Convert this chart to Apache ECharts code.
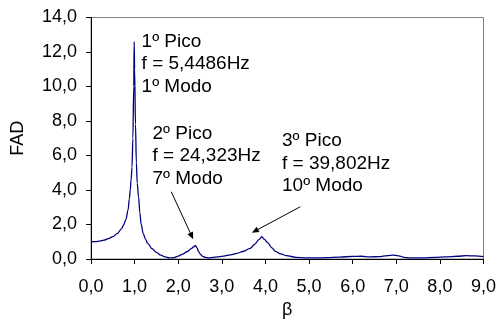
<!DOCTYPE html>
<html>
<head>
<meta charset="utf-8">
<script src="https://cdn.jsdelivr.net/npm/echarts@6/dist/echarts.min.js"></script>
<style>
  html, body { margin: 0; padding: 0; background: #fff; }
  #chart { width: 499px; height: 327px; }
</style>
</head>
<body>
<div id="chart"></div>
<script>
// Frequency ratio β and dynamic amplification factor (FAD)
const beta = [0, 0.1, 0.2, 0.3, 0.4, 0.5, 0.6, 0.7, 0.75, 0.8, 0.85, 0.88, 0.9, 0.92, 0.94, 0.96, 0.98, 0.99,
  1.0, 1.02, 1.04, 1.06, 1.09, 1.12, 1.15, 1.2, 1.25, 1.3, 1.4, 1.5, 1.6, 1.7, 1.8, 1.9, 2.0, 2.1, 2.2, 2.3,
  2.35, 2.39, 2.43, 2.47, 2.51, 2.56, 2.62, 2.7, 2.8, 2.9, 3.0, 3.2, 3.35, 3.5, 3.65, 3.75, 3.85, 3.92, 3.97,
  4.05, 4.15, 4.22, 4.35, 4.48, 4.7, 4.94, 5.2, 5.4, 5.7, 6.0, 6.2, 6.38, 6.6, 6.8, 6.92, 7.05, 7.21, 7.4,
  7.59, 7.9, 8.12, 8.4, 8.6, 8.8, 9.0];
const fad = [1.00, 1.01, 1.04, 1.09, 1.18, 1.30, 1.47, 1.75, 1.98, 2.30, 2.85, 3.5, 4.0, 4.6, 5.3, 7.0, 10.0, 12.6,
  11.0, 7.8, 5.6, 4.4, 3.6, 2.7, 2.0, 1.45, 1.15, 0.91, 0.60, 0.38, 0.22, 0.12, 0.06, 0.08, 0.17, 0.28, 0.42, 0.60,
  0.70, 0.78, 0.65, 0.42, 0.27, 0.15, 0.09, 0.07, 0.09, 0.12, 0.15, 0.24, 0.33, 0.45, 0.62, 0.85, 1.12, 1.29, 1.15,
  0.95, 0.65, 0.46, 0.30, 0.19, 0.10, 0.06, 0.06, 0.08, 0.11, 0.15, 0.16, 0.12, 0.14, 0.20, 0.23, 0.18, 0.08, 0.06,
  0.06, 0.09, 0.12, 0.16, 0.19, 0.18, 0.14];

// Peak annotations: [β, FAD] of the block's first line, and its text lines
const notePos = [[1.16, 12.6], [1.41, 7.28], [4.38, 6.85]];
const noteText = [
  ['1º Pico', 'f = 5,4486Hz', '1º Modo'],
  ['2º Pico', 'f = 24,323Hz', '7º Modo'],
  ['3º Pico', 'f = 39,802Hz', '10º Modo']
];
// Arrows pointing at the 2nd and 3rd peaks: [from, to] in data units
const arrows = [
  [[1.84, 3.90], [2.31, 1.33]],
  [[4.80, 3.03], [3.76, 1.62]]
];

const FONT = 'Liberation Sans, Arial, sans-serif';
const FS = 18;
const NOTE_FS = 19;
const LH = 22.5;
const fmt = v => v.toFixed(1).replace('.', ',');

const chart = echarts.init(document.getElementById('chart'), null, { renderer: 'canvas' });
chart.setOption({
  animation: false,
  backgroundColor: '#fff',
  grid: {
    left: 91, right: 14, top: 17.5, bottom: 68,
    show: true, borderColor: '#808080', borderWidth: 1, backgroundColor: 'transparent'
  },
  xAxis: {
    type: 'value', min: 0, max: 9, interval: 1,
    name: 'β', nameLocation: 'middle', nameGap: 42,
    nameTextStyle: { fontFamily: FONT, fontSize: FS, color: '#000' },
    axisLine: { show: true, onZero: false, lineStyle: { color: '#000', width: 1 } },
    axisTick: { show: true, inside: false, length: 5, lineStyle: { color: '#000' } },
    axisLabel: { formatter: fmt, fontFamily: FONT, fontSize: FS, color: '#000', margin: 19 },
    splitLine: { show: false }
  },
  yAxis: {
    type: 'value', min: 0, max: 14, interval: 2,
    name: 'FAD', nameLocation: 'middle', nameGap: 64, nameRotate: 90,
    nameTextStyle: { fontFamily: FONT, fontSize: FS, color: '#000' },
    axisLine: { show: true, lineStyle: { color: '#000', width: 1 } },
    axisTick: { show: true, inside: false, length: 5, lineStyle: { color: '#000' } },
    axisLabel: { formatter: fmt, fontFamily: FONT, fontSize: FS, color: '#000', margin: 14 },
    splitLine: { show: false }
  },
  series: [{
    type: 'line',
    data: beta.map((b, i) => [b, fad[i]]),
    showSymbol: false,
    smooth: 0.35,
    smoothMonotone: 'x',
    lineStyle: { color: '#000080', width: 1.3 },
    markLine: {
      silent: true,
      symbol: ['none', 'triangle'],
      symbolSize: [6, 7],
      label: { show: false },
      lineStyle: { color: '#000', width: 1, type: 'solid' },
      itemStyle: { color: '#000' },
      data: arrows.map(a => [{ coord: a[0] }, { coord: a[1] }])
    }
  }]
});

// Place the peak notes from data coordinates
const notes = notePos.map((p, i) => {
  const px = chart.convertToPixel({ gridIndex: 0 }, p);
  return {
    type: 'text',
    x: px[0],
    y: px[1] - LH / 2,
    style: {
      text: noteText[i].join('\n'),
      font: NOTE_FS + 'px ' + FONT,
      lineHeight: LH,
      fill: '#000',
      textAlign: 'left',
      textVerticalAlign: 'top'
    }
  };
});
chart.setOption({ graphic: notes });
</script>
</body>
</html>
